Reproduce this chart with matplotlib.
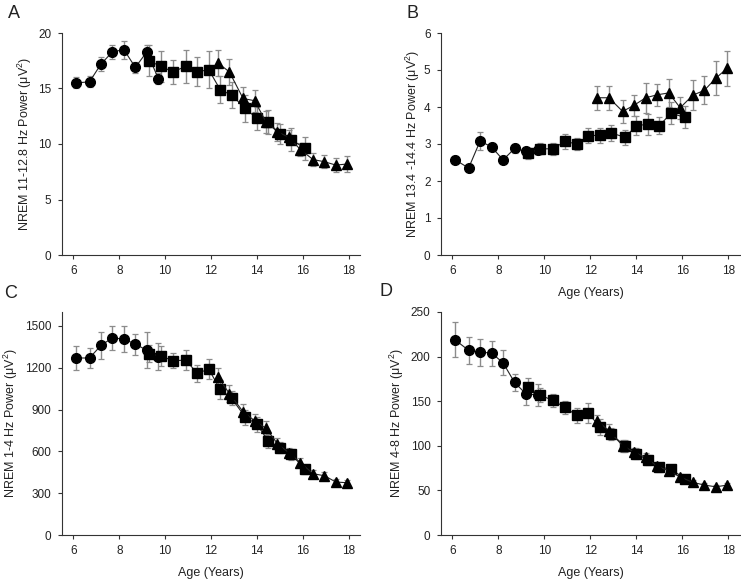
import matplotlib.pyplot as plt

plt.rcParams['font.family'] = ['Liberation Sans', 'DejaVu Sans']

# Ages for the three cohorts
age_circle = [6.1, 6.7, 7.2, 7.7, 8.2, 8.7, 9.2, 9.7]
age_square = [9.3, 9.8, 10.35, 10.9, 11.4, 11.9, 12.4, 12.9, 13.5, 14.0, 14.5, 15.0, 15.5, 16.1]
age_triangle = [12.3, 12.8, 13.4, 13.9, 14.4, 14.9, 15.4, 15.9, 16.45, 16.95, 17.45, 17.95]

# Panel A: NREM 11-12.8 Hz
a_circle = [15.5, 15.6, 17.2, 18.3, 18.5, 16.9, 18.3, 15.9]
a_circle_err = [0.5, 0.5, 0.6, 0.6, 0.8, 0.5, 0.6, 0.5]
a_square = [17.5, 17.0, 16.5, 17.0, 16.5, 16.7, 14.9, 14.4, 13.2, 12.3, 12.0, 10.9, 10.4, 9.6]
a_square_err = [1.4, 1.4, 1.1, 1.5, 1.3, 1.7, 1.2, 1.2, 1.2, 1.0, 1.1, 0.9, 1.0, 1.0]
a_triangle = [17.3, 16.5, 14.1, 13.9, 12.0, 11.1, 10.6, 9.5, 8.6, 8.4, 8.1, 8.2]
a_triangle_err = [1.2, 1.2, 1.0, 1.0, 1.0, 0.8, 0.7, 0.6, 0.6, 0.6, 0.6, 0.7]

# Panel B: NREM 13.4-14.4 Hz
b_circle = [2.58, 2.35, 3.08, 2.92, 2.57, 2.88, 2.80, 2.85]
b_circle_err = [0.1, 0.05, 0.25, 0.1, 0.08, 0.12, 0.1, 0.12]
b_square = [2.75, 2.87, 2.87, 3.07, 3.0, 3.22, 3.24, 3.3, 3.18, 3.5, 3.53, 3.5, 3.83, 3.72]
b_square_err = [0.15, 0.15, 0.17, 0.2, 0.17, 0.2, 0.2, 0.22, 0.2, 0.27, 0.28, 0.23, 0.3, 0.3]
b_triangle = [4.25, 4.25, 3.88, 4.05, 4.25, 4.33, 4.38, 3.98, 4.32, 4.45, 4.78, 5.05]
b_triangle_err = [0.33, 0.33, 0.3, 0.28, 0.4, 0.3, 0.38, 0.3, 0.4, 0.38, 0.45, 0.47]

# Panel C: NREM 1-4 Hz
c_circle = [1270, 1270, 1360, 1415, 1405, 1370, 1325, 1280]
c_circle_err = [85, 75, 95, 85, 95, 75, 130, 95]
c_square = [1300, 1285, 1250, 1255, 1160, 1190, 1045, 980, 845, 795, 675, 625, 580, 470]
c_square_err = [60, 70, 55, 70, 60, 70, 70, 50, 55, 55, 50, 40, 40, 35]
c_triangle = [1135, 1015, 885, 820, 765, 655, 590, 520, 440, 425, 380, 375]
c_triangle_err = [65, 60, 55, 50, 50, 40, 35, 30, 25, 30, 20, 20]

# Panel D: NREM 4-8 Hz
d_circle = [219, 207, 205, 204, 193, 171, 158, 157]
d_circle_err = [20, 15, 15, 14, 14, 10, 12, 12]
d_square = [166, 157, 151, 143, 134, 137, 121, 113, 100, 91, 84, 76, 74, 63]
d_square_err = [10, 8, 7, 7, 8, 11, 9, 7, 7, 6, 6, 5, 5, 4]
d_triangle = [128, 117, 100, 93, 87, 77, 72, 65, 59, 56, 54, 56]
d_triangle_err = [7, 7, 7, 5, 5, 4, 4, 3, 3, 2, 2, 2]

W, H = 741, 581


def draw_panel(ax, series, ylabel, ylim, yticks, ylabel_x, xlabel=True):
    # series: list of (ages, values, errors, marker)
    for ages, vals, errs, marker in series:
        ax.errorbar(ages, vals, yerr=errs, fmt='none', ecolor='#8c8c8c',
                    elinewidth=1.0, capsize=2.5, capthick=0.9, zorder=1)
        ax.plot(ages, vals, color='#222222', lw=0.8, marker=marker,
                markersize=7 if marker != '^' else 7.5, markerfacecolor='black',
                markeredgecolor='black', zorder=3)
    ax.set_xlim(5.5, 18.5)
    ax.set_xticks([6, 8, 10, 12, 14, 16, 18])
    ax.set_ylim(*ylim)
    ax.set_yticks(yticks)
    ax.spines['top'].set_visible(False)
    ax.spines['right'].set_visible(False)
    ax.spines['left'].set_color('#333333')
    ax.spines['bottom'].set_color('#333333')
    ax.tick_params(labelsize=8.5, length=3, pad=4.5, color='#333333', labelcolor='#222222')
    ax.set_ylabel(ylabel, fontsize=9, color='#222222', va='center')
    # place y label centre at a given figure pixel column
    x0 = ax.get_position().x0 * W
    w = ax.get_position().width * W
    ax.yaxis.set_label_coords((ylabel_x - x0) / w, 0.5)
    if xlabel:
        ax.set_xlabel('Age (Years)', fontsize=9, color='#222222', va='top')
        ax.xaxis.set_label_coords(0.5, -0.145)


fig = plt.figure(figsize=(W / 100, H / 100), dpi=100)

ax_a = fig.add_axes([62 / W, 1 - 255 / H, 298 / W, 222 / H])
ax_b = fig.add_axes([441 / W, 1 - 255 / H, 299 / W, 222 / H])
ax_c = fig.add_axes([62 / W, 1 - 535 / H, 298 / W, 223 / H])
ax_d = fig.add_axes([441 / W, 1 - 535 / H, 299 / W, 223 / H])

draw_panel(ax_a, [(age_circle, a_circle, a_circle_err, 'o'),
                  (age_square, a_square, a_square_err, 's'),
                  (age_triangle, a_triangle, a_triangle_err, '^')],
           r'NREM 11-12.8 Hz Power ($\mathregular{\mu V^2}$)', (0, 20), [0, 5, 10, 15, 20],
           ylabel_x=25, xlabel=False)
draw_panel(ax_b, [(age_circle, b_circle, b_circle_err, 'o'),
                  (age_square, b_square, b_square_err, 's'),
                  (age_triangle, b_triangle, b_triangle_err, '^')],
           r'NREM 13.4 -14.4 Hz Power ($\mathregular{\mu V^2}$)', (0, 6), [0, 1, 2, 3, 4, 5, 6],
           ylabel_x=413)
draw_panel(ax_c, [(age_circle, c_circle, c_circle_err, 'o'),
                  (age_square, c_square, c_square_err, 's'),
                  (age_triangle, c_triangle, c_triangle_err, '^')],
           r'NREM 1-4 Hz Power ($\mathregular{\mu V^2}$)', (0, 1600), [0, 300, 600, 900, 1200, 1500],
           ylabel_x=11)
draw_panel(ax_d, [(age_circle, d_circle, d_circle_err, 'o'),
                  (age_square, d_square, d_square_err, 's'),
                  (age_triangle, d_triangle, d_triangle_err, '^')],
           r'NREM 4-8 Hz Power ($\mathregular{\mu V^2}$)', (0, 250), [0, 50, 100, 150, 200, 250],
           ylabel_x=397)

# Panel letters
for letter, px, py in [('A', 14, 13), ('B', 412, 13), ('C', 11, 293), ('D', 386, 292)]:
    fig.text(px / W, 1 - py / H, letter, fontsize=13, color='#222222',
             ha='center', va='center')

fig.savefig('out.png', dpi=100)
